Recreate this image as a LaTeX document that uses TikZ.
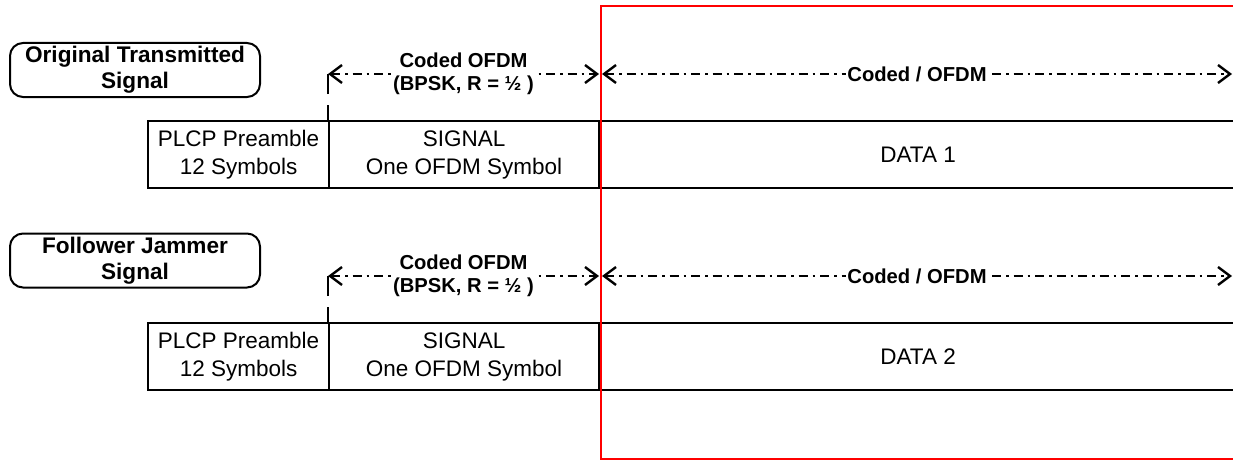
\documentclass[tikz,border=0pt]{standalone}
\usepackage{fontspec}
\setmainfont{Liberation Sans}
\usetikzlibrary{arrows.meta}
\begin{document}
\begin{tikzpicture}[x=1pt,y=-1pt,
  frame/.style={draw, line width=2pt, rounded corners=13pt, minimum width=250pt,
    minimum height=54pt, align=center, inner sep=0pt,
    font=\fontsize{22.6}{26}\selectfont\bfseries},
  cell/.style={draw, line width=2.2pt, anchor=north west, minimum height=67pt,
    align=center, inner sep=0pt, font=\fontsize{22.5}{28}\selectfont},
  tip/.style={Straight Barb[length=12pt,width=18pt,line width=2.4pt]},
  dim/.style={line width=2.4pt, dash pattern=on 9pt off 5pt on 2.5pt off 5pt,
    {Straight Barb[length=12pt,width=18pt]}-{Straight Barb[length=12pt,width=18pt]}},
  lbl/.style={fill=white, inner sep=1pt, align=center,
    font=\fontsize{20.2}{23}\selectfont\bfseries},
  tickline/.style={line width=2.2pt, dash pattern=on 15pt off 11pt on 40pt}
]
\useasboundingbox (0,0) rectangle (1233,460);
\clip (0,0) rectangle (1233,460);

% ---- first frame: original transmission ----
\node[frame] (lab1) at (135,70) {Original Transmitted\\Signal};
\node[cell, minimum width=181pt] (pre1) at (147,120) {PLCP Preamble\\12 Symbols};
\node[cell, minimum width=270pt] (sig1) at (328,120) {SIGNAL\\One OFDM Symbol};
\node[cell, minimum width=638pt] (dat1) at (598,120) {DATA 1};
\coordinate (a1) at (328,74);
\coordinate (b1) at (599,74);
\coordinate (c1) at (602,74);
\coordinate (d1) at (1232,74);
\draw[tickline] (sig1.north west) -- (a1);
\draw[dim] (a1) -- (b1) node[midway, lbl] {Coded OFDM\\(BPSK, R = ½ )};
\draw[dim] (c1) -- (d1) node[midway, lbl] {Coded / OFDM};

% ---- second frame: follower jammer ----
\node[frame] (lab2) at (135,260.5) {Follower Jammer\\Signal};
\node[cell, minimum width=181pt] (pre2) at (147,322) {PLCP Preamble\\12 Symbols};
\node[cell, minimum width=270pt] (sig2) at (328,322) {SIGNAL\\One OFDM Symbol};
\node[cell, minimum width=638pt] (dat2) at (598,322) {DATA 2};
\coordinate (a2) at (328,276);
\coordinate (b2) at (599,276);
\coordinate (c2) at (602,276);
\coordinate (d2) at (1232,276);
\draw[tickline] (sig2.north west) -- (a2);
\draw[dim] (a2) -- (b2) node[midway, lbl] {Coded OFDM\\(BPSK, R = ½ )};
\draw[dim] (c2) -- (d2) node[midway, lbl] {Coded / OFDM};

% ---- red marker frame ----
\draw[red, line width=2pt] (1240,6) -| (601,459) -- (1240,459);
\end{tikzpicture}
\end{document}
